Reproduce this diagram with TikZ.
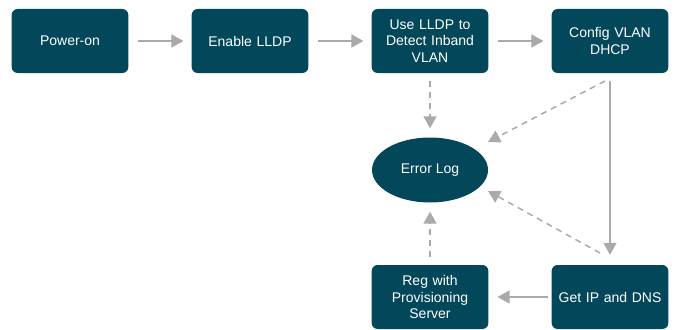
\documentclass[tikz,border=0pt]{standalone}
\usepackage{fontspec}
\setmainfont{Liberation Sans}
\usetikzlibrary{arrows.meta,shapes.geometric}
\definecolor{boxteal}{HTML}{03475A}
\definecolor{flowgray}{HTML}{ABA9AA}
\begin{document}
\begin{tikzpicture}[x=1pt,y=-1pt,
  stepbox/.style={draw=none,fill=boxteal,rounded corners=6pt,minimum width=116pt,
    minimum height=64pt,text width=110pt,align=center,text=white,
    font=\fontsize{14}{16.7}\selectfont},
  logbox/.style={ellipse,fill=boxteal,minimum width=116pt,minimum height=65pt,
    text=white,font=\fontsize{14}{16.7}\selectfont},
  flow/.style={draw=flowgray,line width=1.5pt,-{Triangle[length=12pt,width=13pt]}},
  fail/.style={flow,dash pattern=on 6pt off 5pt}]
  \useasboundingbox (0,0) rectangle (674,329);
  % top row
  \node[stepbox] (power) at (70,41) {Power-on};
  \node[stepbox] (lldp) at (250,41) {Enable LLDP};
  \node[stepbox] (detect) at (430,41) {Use LLDP to\\Detect Inband\\VLAN};
  \node[stepbox] (vlan) at (610,41) {Config VLAN\\DHCP};
  % error log and bottom row
  \node[logbox] (errlog) at (430,170) {Error Log};
  \node[stepbox] (getip) at (610,297) {Get IP and DNS};
  \node[stepbox] (reg) at (430,297) {Reg with\\Provisioning\\Server};
  \coordinate (vlanout) at (605,81);
  \coordinate (getipout) at (600,253);
  \coordinate (logne) at (488,142);
  \coordinate (logse) at (488,191);
  \draw[flow,shorten <=9pt,shorten >=8pt] (power) -- (lldp);
  \draw[flow,shorten <=9pt,shorten >=8pt] (lldp) -- (detect);
  \draw[flow,shorten <=9pt,shorten >=8pt] (detect) -- (vlan);
  \draw[flow,shorten <=8pt,shorten >=10pt] (vlan) -- (getip);
  \draw[flow,shorten <=3pt,shorten >=9pt] (getip) -- (reg);
  \draw[fail,shorten <=8pt,shorten >=9pt] (detect) -- (errlog);
  \draw[fail,shorten <=8pt,shorten >=9pt] (reg) -- (errlog);
  \draw[fail] (vlanout) -- (logne);
  \draw[fail] (getipout) -- (logse);
\end{tikzpicture}
\end{document}
